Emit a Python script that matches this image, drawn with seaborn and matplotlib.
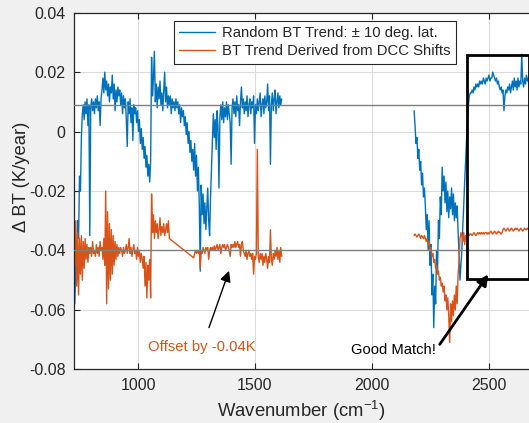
import numpy as np
import pandas as pd
import seaborn as sns
import matplotlib
import matplotlib.pyplot as plt
from matplotlib.patches import Rectangle

matplotlib.use("Agg")

STEP = 4

# Random BT trend (+/- 10 deg lat), left band starts at 730 cm-1
blue_left_start = 730
blue_left = [
    -0.058, -0.044, -0.050, -0.030, -0.036, -0.015, -0.020, -0.002, 0.006,
    0.009, 0.004, 0.010, 0.006, 0.011, 0.002, 0.009, -0.035,
    0.008, 0.011, 0.007, 0.010, 0.006, 0.011, 0.008, 0.012,
    0.007, 0.010, 0.002, 0.011, 0.014, 0.018, 0.013, 0.020,
    0.014, 0.017, 0.012, 0.016, 0.010, 0.015, 0.013, 0.019,
    0.011, 0.016, 0.007, 0.014, 0.010, 0.015, 0.012, 0.014,
    0.009, 0.013, 0.006, 0.012, 0.008, 0.011, 0.004, -0.005,
    0.010, 0.006, 0.011, 0.003, 0.008, -0.003, 0.009, 0.006,
    0.008, 0.003, 0.007, 0.000, 0.004, -0.004, 0.001, -0.006,
    -0.002, -0.009, -0.005, -0.012, -0.008, -0.015, -0.011, -0.017,
    -0.010, 0.025, 0.012, 0.018, 0.027, 0.010, 0.016, 0.008, 0.015, 0.011, 0.017, 0.009,
    0.013, 0.007, 0.014, 0.020, 0.010, 0.015, 0.008, 0.012,
    0.009, 0.012, 0.006, 0.011, 0.008, 0.010, 0.007, 0.011,
    0.008, 0.010, 0.006, 0.009, 0.003, 0.008, 0.005,
    0.007, 0.002, 0.005, -0.001, 0.003, -0.004, 0.000, -0.007, -0.003, -0.010, -0.006, -0.013,
    -0.004, -0.015, -0.008, -0.020, -0.012, -0.025, -0.047, -0.018, -0.028, -0.021,
    -0.031, -0.024, -0.033, -0.026, -0.019, -0.030, -0.035, -0.022, -0.012, -0.003,
    0.006, -0.002, 0.004, -0.006, 0.007, 0.001, -0.019, 0.005, 0.009, 0.004,
    0.010, 0.003, 0.008, 0.005, 0.010, 0.004, 0.009, 0.006, 0.003, -0.011,
    0.008, 0.011, 0.006, 0.010, 0.005, 0.012, 0.007, 0.009, 0.002, 0.010,
    0.015, 0.008, 0.011, 0.006, 0.010, 0.007, 0.012, 0.005, 0.009, 0.011,
    0.006, 0.010, 0.008, 0.012, -0.004,
    0.009, 0.006, 0.011, 0.007, 0.010, 0.013, 0.005, 0.009, 0.011, 0.006,
    0.012, 0.008, 0.010, 0.016, 0.007, 0.012, -0.011, 0.009, 0.013, 0.007,
    0.011, 0.014, 0.006, 0.010, 0.013, 0.008, 0.012, 0.009, 0.011,
]

# right band (both series) starts at 2180 cm-1
right_start = 2180
blue_right = [
    0.007, 0.002, -0.004, -0.002, -0.009, -0.006, -0.013, -0.010,
    -0.018, -0.014, -0.022, -0.019, -0.025, -0.033, -0.028, -0.040,
    -0.030, -0.045, -0.038, -0.055, -0.048, -0.066, -0.052, -0.058,
    -0.040, -0.047, -0.030, -0.036, -0.022, -0.028, -0.012,
    -0.020, -0.015, -0.024, -0.017, -0.027, -0.020, -0.029, -0.022, -0.026,
    -0.019, -0.028, -0.021, -0.030, -0.024, -0.029, -0.025, -0.034,
    -0.041, -0.050, -0.045, -0.040, -0.032, -0.025, -0.017, -0.010, -0.003,
    0.004, 0.009, 0.012, 0.013,
    0.013, 0.014, 0.013, 0.015, 0.014, 0.016, 0.015, 0.016,
    0.015, 0.017, 0.016, 0.017, 0.016, 0.018, 0.017, 0.016,
    0.018, 0.017, 0.018, 0.019, 0.017, 0.018, 0.018, 0.020,
    0.019, 0.018, 0.017, 0.018, 0.016, 0.017, 0.015, 0.014,
    0.015, 0.013, 0.014, 0.007, 0.012, 0.014, 0.013, 0.015,
    0.014, 0.016, 0.013, 0.015, 0.017, 0.014, 0.018, 0.015,
    0.017, 0.014, 0.018, 0.015, 0.017, 0.016, 0.026, 0.017,
    0.015, 0.018, 0.016, 0.019, 0.017, 0.018,
]

# BT trend from DCC shifts (offset by -0.04 K); gap between 1134 and 1238
orange_a_start = 730
orange_a = [
    -0.045, -0.030, -0.052, -0.034, -0.055, -0.036, -0.048, -0.035,
    -0.050, -0.037, -0.046, -0.036, -0.043, -0.038, -0.044, -0.039,
    -0.041, -0.039, -0.042, -0.037, -0.041, -0.040, -0.042, -0.038,
    -0.041, -0.039, -0.042, -0.037, -0.040, -0.039, -0.043, -0.036,
    -0.045, -0.020, -0.058, -0.027, -0.053, -0.031, -0.050, -0.033,
    -0.048, -0.035, -0.045, -0.037, -0.043, -0.038, -0.042, -0.039,
    -0.041, -0.039, -0.040, -0.042, -0.039, -0.041, -0.040, -0.038,
    -0.041, -0.039, -0.036, -0.041, -0.039, -0.042, -0.040, -0.038,
    -0.041, -0.040, -0.043, -0.039, -0.042, -0.040, -0.044, -0.041,
    -0.043, -0.046, -0.042, -0.052, -0.044, -0.056, -0.045, -0.050,
    -0.043, -0.056, -0.021, -0.034, -0.028, -0.036, -0.030, -0.034,
    -0.031, -0.036, -0.033, -0.029, -0.035, -0.032, -0.034, -0.031,
    -0.035, -0.033, -0.031, -0.034, -0.030, -0.036,
]
orange_b_start = 1238
orange_b = [
    -0.0425, -0.041, -0.040, -0.041, -0.040, -0.041, -0.040, -0.046,
    -0.040, -0.041, -0.039, -0.040, -0.041, -0.039, -0.040, -0.039,
    -0.043, -0.040, -0.039, -0.040, -0.039, -0.040, -0.0385, -0.040,
    -0.039, -0.038, -0.040, -0.039, -0.038, -0.041, -0.039, -0.038,
    -0.039, -0.038, -0.040, -0.039, -0.038, -0.039, -0.040, -0.042,
    -0.038, -0.039, -0.038, -0.039, -0.037, -0.039, -0.038, -0.037,
    -0.039, -0.038, -0.042, -0.038, -0.037, -0.040, -0.041, -0.042,
    -0.040, -0.043, -0.041, -0.040, -0.042, -0.041, -0.043, -0.041,
    -0.048, -0.042, -0.043, -0.041, -0.006, -0.042, -0.044, -0.041,
    -0.043, -0.041, -0.045, -0.042, -0.044, -0.041, -0.043, -0.046,
    -0.042, -0.044, -0.033, -0.043, -0.045, -0.041, -0.043, -0.040,
    -0.042, -0.039, -0.043, -0.040, -0.044, -0.039, -0.042,
]
orange_right = [
    -0.035, -0.0345, -0.035, -0.0355, -0.035, -0.0345, -0.035, -0.036,
    -0.035, -0.0355, -0.036, -0.035, -0.036, -0.037, -0.036,
    -0.038, -0.037, -0.040, -0.039, -0.042, -0.041, -0.044, -0.043,
    -0.046, -0.045, -0.048, -0.047, -0.050, -0.049, -0.052, -0.051,
    -0.054, -0.052, -0.057, -0.055, -0.060, -0.056, -0.062, -0.071, -0.058,
    -0.064, -0.057, -0.062, -0.055, -0.060, -0.052, -0.058, -0.048,
    -0.044, -0.036, -0.034, -0.035, -0.037, -0.034, -0.038, -0.035, -0.036,
    -0.035, -0.034, -0.035, -0.0345,
    -0.0345, -0.035, -0.0345, -0.034, -0.0345, -0.035, -0.0345, -0.034,
    -0.0345, -0.034, -0.0345, -0.034, -0.0345, -0.034, -0.0345, -0.034,
    -0.034, -0.0345, -0.034, -0.0345, -0.034, -0.0335, -0.034, -0.0345,
    -0.034, -0.0335, -0.034, -0.0345, -0.034, -0.0335, -0.034, -0.034,
    -0.0345, -0.034, -0.033, -0.0325, -0.033, -0.0335, -0.033, -0.0325,
    -0.033, -0.0335, -0.033, -0.0325, -0.033, -0.0335, -0.033, -0.0325,
    -0.033, -0.0325, -0.033, -0.0335, -0.033, -0.0325, -0.033, -0.0335,
    -0.033, -0.0325, -0.033, -0.033, -0.0325, -0.033,
]

ref_levels = [0.0089, -0.04]
y_ticks = [0.04, 0.02, 0, -0.02, -0.04, -0.06, -0.08]
x_ticks = [1000, 1500, 2000, 2500]

BLUE = "#0072BD"
ORANGE = "#D95319"
BG = "#f0f0f0"


def wn(start, vals):
    return start + STEP * np.arange(len(vals))


sns.set_theme(style="ticks")
plt.rcParams["font.family"] = ["Liberation Sans", "DejaVu Sans"]
plt.rcParams["mathtext.default"] = "regular"

fig = plt.figure(figsize=(5.29, 4.23), dpi=100, facecolor=BG)
ax = fig.add_axes([0.1399, 0.127, 0.8601, 0.843])
ax.set_facecolor("white")

blue_l = pd.DataFrame({"wn": wn(blue_left_start, blue_left), "bt": blue_left})
blue_r = pd.DataFrame({"wn": wn(right_start, blue_right), "bt": blue_right})
orange_l = pd.DataFrame({
    "wn": np.concatenate([wn(orange_a_start, orange_a), wn(orange_b_start, orange_b)]),
    "bt": orange_a + orange_b,
})
orange_r = pd.DataFrame({"wn": wn(right_start, orange_right), "bt": orange_right})

kw = dict(x="wn", y="bt", ax=ax, estimator=None, sort=False, lw=1.0)
sns.lineplot(data=blue_l, color=BLUE, label="Random BT Trend: \u00b1 10 deg. lat.", **kw)
sns.lineplot(data=blue_r, color=BLUE, **kw)
sns.lineplot(data=orange_l, color=ORANGE, label="BT Trend Derived from DCC Shifts", **kw)
sns.lineplot(data=orange_r, color=ORANGE, **kw)

for lvl in ref_levels:
    ax.axhline(lvl, color="#7f7f7f", lw=1, zorder=3)

ax.add_patch(Rectangle((2407, -0.0497), 262, 0.0755, fill=False,
                       edgecolor="black", lw=2, zorder=4))

ax.annotate("Offset by -0.04K", xy=(1393, -0.046), xytext=(1274, -0.0725),
            color=ORANGE, fontsize=10.7, ha="center", va="center",
            arrowprops=dict(arrowstyle="-|>", color="black", lw=1,
                            mutation_scale=16, shrinkA=7))
ax.annotate("Good Match!", xy=(2504, -0.0473), xytext=(2090, -0.0735),
            color="black", fontsize=10.6, ha="center", va="center",
            arrowprops=dict(arrowstyle="-|>", color="black", lw=2,
                            mutation_scale=16, shrinkA=0, relpos=(1.05, 0.9)))

ax.set_xlim(726.5, 2671)
ax.set_ylim(-0.08, 0.04)
ax.set_xticks(x_ticks)
ax.set_yticks(y_ticks)
ax.set_yticklabels(["0.04", "0.02", "0", "-0.02", "-0.04", "-0.06", "-0.08"])
ax.grid(True, color="#dcdcdc", lw=0.8)
ax.set_axisbelow(True)
ax.tick_params(direction="in", length=4, width=0.8, top=True, colors="#262626",
               labelsize=11.5, pad=6)
for side in ["left", "bottom", "top"]:
    ax.spines[side].set_color("#262626")
    ax.spines[side].set_linewidth(0.9)
ax.spines["right"].set_visible(False)

ax.set_xlabel("Wavenumber (cm$^{-1}$)", fontsize=13.3, color="#262626")
ax.set_ylabel("\u0394 BT (K/year)", fontsize=13.3, color="#262626")
ax.xaxis.set_label_coords(0.5, -0.083)
ax.yaxis.set_label_coords(-0.097, 0.54)

handles, labels = ax.get_legend_handles_labels()
leg = ax.legend(handles[:2], labels[:2], loc="upper right",
                bbox_to_anchor=(0.8396, 0.9776), fontsize=10.7, frameon=True,
                fancybox=False, framealpha=1, edgecolor="#262626",
                handlelength=2.4, borderpad=0.35, labelspacing=0.3,
                handletextpad=0.5, borderaxespad=0)
leg.get_frame().set_linewidth(0.8)

fig.savefig("out.png", dpi=100, facecolor=BG)
